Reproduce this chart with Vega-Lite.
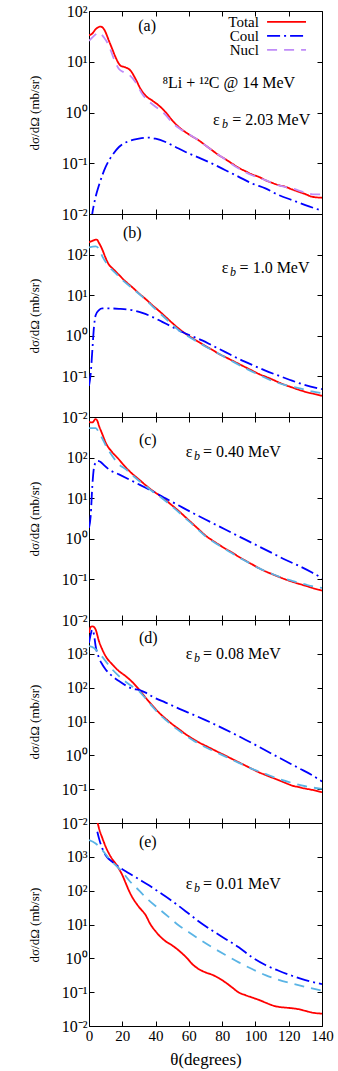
{
"$schema": "https://vega.github.io/schema/vega-lite/v6.json",
"padding": {"left": 27, "top": 2, "right": 5, "bottom": 4},
"spacing": 0,
"bounds": "flush",
"resolve": {"scale": {"color": "independent", "strokeDash": "independent"}},
"config": {
 "font": "Liberation Serif",
 "view": {"stroke": "black", "strokeWidth": 1},
 "axis": {"domain": false, "grid": false, "tickSize": -5, "tickColor": "black", "tickWidth": 1, "labelFont": "Liberation Serif", "labelFontSize": 16, "labelColor": "black", "labelPadding": 7, "labelOverlap": false, "labelFlush": false, "titleFont": "Liberation Serif", "titleFontSize": 13, "titleFontWeight": "normal", "titleColor": "black", "titlePadding": 20}
},
"datasets": {
"curves": [
{"p":"a","s":"Total","t":0,"v":33.3},{"p":"a","s":"Total","t":2,"v":36},{"p":"a","s":"Total","t":4,"v":43.8},{"p":"a","s":"Total","t":7,"v":49.3},{"p":"a","s":"Total","t":9,"v":43.8},{"p":"a","s":"Total","t":12,"v":25.8},{"p":"a","s":"Total","t":14,"v":17.7},{"p":"a","s":"Total","t":16,"v":12.2},{"p":"a","s":"Total","t":19,"v":8.35},{"p":"a","s":"Total","t":22,"v":7.75},{"p":"a","s":"Total","t":25,"v":6.66},{"p":"a","s":"Total","t":28,"v":4.57},{"p":"a","s":"Total","t":31,"v":2.91},{"p":"a","s":"Total","t":34,"v":2.15},{"p":"a","s":"Total","t":38,"v":1.72},{"p":"a","s":"Total","t":42,"v":1.37},{"p":"a","s":"Total","t":46,"v":1.02},{"p":"a","s":"Total","t":50,"v":0.7},{"p":"a","s":"Total","t":54,"v":0.515},{"p":"a","s":"Total","t":58,"v":0.41},{"p":"a","s":"Total","t":62,"v":0.338},{"p":"a","s":"Total","t":66,"v":0.282},{"p":"a","s":"Total","t":70,"v":0.225},{"p":"a","s":"Total","t":74,"v":0.18},{"p":"a","s":"Total","t":78,"v":0.144},{"p":"a","s":"Total","t":82,"v":0.12},{"p":"a","s":"Total","t":86,"v":0.0985},{"p":"a","s":"Total","t":90,"v":0.081},{"p":"a","s":"Total","t":94,"v":0.0697},{"p":"a","s":"Total","t":98,"v":0.06},{"p":"a","s":"Total","t":102,"v":0.054},{"p":"a","s":"Total","t":106,"v":0.0464},{"p":"a","s":"Total","t":110,"v":0.0411},{"p":"a","s":"Total","t":114,"v":0.037},{"p":"a","s":"Total","t":118,"v":0.0344},{"p":"a","s":"Total","t":122,"v":0.0305},{"p":"a","s":"Total","t":126,"v":0.0274},{"p":"a","s":"Total","t":130,"v":0.0247},{"p":"a","s":"Total","t":134,"v":0.0219},{"p":"a","s":"Total","t":140,"v":0.0209},
{"p":"a","s":"Coul","t":1.5,"v":0.008},{"p":"a","s":"Coul","t":2,"v":0.0103},{"p":"a","s":"Coul","t":4,"v":0.0219},{"p":"a","s":"Coul","t":6,"v":0.037},{"p":"a","s":"Coul","t":8,"v":0.058},{"p":"a","s":"Coul","t":10,"v":0.0848},{"p":"a","s":"Coul","t":14,"v":0.144},{"p":"a","s":"Coul","t":18,"v":0.209},{"p":"a","s":"Coul","t":24,"v":0.274},{"p":"a","s":"Coul","t":30,"v":0.305},{"p":"a","s":"Coul","t":36,"v":0.319},{"p":"a","s":"Coul","t":40,"v":0.305},{"p":"a","s":"Coul","t":46,"v":0.262},{"p":"a","s":"Coul","t":52,"v":0.209},{"p":"a","s":"Coul","t":58,"v":0.167},{"p":"a","s":"Coul","t":66,"v":0.129},{"p":"a","s":"Coul","t":74,"v":0.0985},{"p":"a","s":"Coul","t":82,"v":0.073},{"p":"a","s":"Coul","t":90,"v":0.054},{"p":"a","s":"Coul","t":98,"v":0.0399},{"p":"a","s":"Coul","t":106,"v":0.0319},{"p":"a","s":"Coul","t":114,"v":0.0236},{"p":"a","s":"Coul","t":122,"v":0.0188},{"p":"a","s":"Coul","t":130,"v":0.015},{"p":"a","s":"Coul","t":140,"v":0.0116},
{"p":"a","s":"Nucl","t":0,"v":25.8},{"p":"a","s":"Nucl","t":3,"v":32.4},{"p":"a","s":"Nucl","t":6,"v":37.6},{"p":"a","s":"Nucl","t":9,"v":30},{"p":"a","s":"Nucl","t":12,"v":20.6},{"p":"a","s":"Nucl","t":15,"v":11.3},{"p":"a","s":"Nucl","t":18,"v":7.2},{"p":"a","s":"Nucl","t":21,"v":6.2},{"p":"a","s":"Nucl","t":24,"v":5.56},{"p":"a","s":"Nucl","t":28,"v":3.94},{"p":"a","s":"Nucl","t":32,"v":2.32},{"p":"a","s":"Nucl","t":36,"v":1.65},{"p":"a","s":"Nucl","t":40,"v":1.3},{"p":"a","s":"Nucl","t":46,"v":0.9},{"p":"a","s":"Nucl","t":50,"v":0.63},{"p":"a","s":"Nucl","t":55,"v":0.47},{"p":"a","s":"Nucl","t":60,"v":0.375},{"p":"a","s":"Nucl","t":66,"v":0.28},{"p":"a","s":"Nucl","t":74,"v":0.18},{"p":"a","s":"Nucl","t":82,"v":0.118},{"p":"a","s":"Nucl","t":90,"v":0.0786},{"p":"a","s":"Nucl","t":98,"v":0.058},{"p":"a","s":"Nucl","t":106,"v":0.0464},{"p":"a","s":"Nucl","t":114,"v":0.0365},{"p":"a","s":"Nucl","t":122,"v":0.0319},{"p":"a","s":"Nucl","t":130,"v":0.0262},{"p":"a","s":"Nucl","t":136,"v":0.0243},{"p":"a","s":"Nucl","t":140,"v":0.0243},
{"p":"b","s":"Total","t":0,"v":202},{"p":"b","s":"Total","t":2,"v":218},{"p":"b","s":"Total","t":4.6,"v":235},{"p":"b","s":"Total","t":6,"v":194},{"p":"b","s":"Total","t":8,"v":133},{"p":"b","s":"Total","t":10,"v":82.4},{"p":"b","s":"Total","t":12,"v":56.3},{"p":"b","s":"Total","t":14,"v":46.5},{"p":"b","s":"Total","t":18,"v":31.7},{"p":"b","s":"Total","t":22,"v":21.7},{"p":"b","s":"Total","t":26,"v":15.7},{"p":"b","s":"Total","t":30,"v":11.1},{"p":"b","s":"Total","t":34,"v":8.05},{"p":"b","s":"Total","t":38,"v":5.71},{"p":"b","s":"Total","t":42,"v":4.13},{"p":"b","s":"Total","t":46,"v":2.93},{"p":"b","s":"Total","t":50,"v":2.08},{"p":"b","s":"Total","t":54,"v":1.5},{"p":"b","s":"Total","t":58,"v":1.13},{"p":"b","s":"Total","t":62,"v":0.881},{"p":"b","s":"Total","t":66,"v":0.701},{"p":"b","s":"Total","t":70,"v":0.558},{"p":"b","s":"Total","t":74,"v":0.453},{"p":"b","s":"Total","t":78,"v":0.36},{"p":"b","s":"Total","t":82,"v":0.298},{"p":"b","s":"Total","t":86,"v":0.246},{"p":"b","s":"Total","t":90,"v":0.203},{"p":"b","s":"Total","t":94,"v":0.168},{"p":"b","s":"Total","t":98,"v":0.139},{"p":"b","s":"Total","t":102,"v":0.115},{"p":"b","s":"Total","t":106,"v":0.0985},{"p":"b","s":"Total","t":110,"v":0.0845},{"p":"b","s":"Total","t":114,"v":0.0713},{"p":"b","s":"Total","t":118,"v":0.0611},{"p":"b","s":"Total","t":122,"v":0.0535},{"p":"b","s":"Total","t":126,"v":0.0469},{"p":"b","s":"Total","t":130,"v":0.0418},{"p":"b","s":"Total","t":134,"v":0.038},{"p":"b","s":"Total","t":140,"v":0.0333},
{"p":"b","s":"Coul","t":0,"v":0.0589},{"p":"b","s":"Coul","t":1,"v":0.115},{"p":"b","s":"Coul","t":2,"v":0.435},{"p":"b","s":"Coul","t":3,"v":1.66},{"p":"b","s":"Coul","t":4,"v":3.22},{"p":"b","s":"Coul","t":6,"v":4.29},{"p":"b","s":"Coul","t":8,"v":4.72},{"p":"b","s":"Coul","t":12,"v":4.72},{"p":"b","s":"Coul","t":18,"v":4.63},{"p":"b","s":"Coul","t":26,"v":4.29},{"p":"b","s":"Coul","t":32,"v":3.68},{"p":"b","s":"Coul","t":38,"v":2.93},{"p":"b","s":"Coul","t":44,"v":2.2},{"p":"b","s":"Coul","t":50,"v":1.66},{"p":"b","s":"Coul","t":56,"v":1.24},{"p":"b","s":"Coul","t":62,"v":0.97},{"p":"b","s":"Coul","t":68,"v":0.77},{"p":"b","s":"Coul","t":74,"v":0.579},{"p":"b","s":"Coul","t":82,"v":0.396},{"p":"b","s":"Coul","t":90,"v":0.27},{"p":"b","s":"Coul","t":98,"v":0.192},{"p":"b","s":"Coul","t":106,"v":0.139},{"p":"b","s":"Coul","t":114,"v":0.104},{"p":"b","s":"Coul","t":122,"v":0.0783},{"p":"b","s":"Coul","t":130,"v":0.0611},{"p":"b","s":"Coul","t":140,"v":0.0486},
{"p":"b","s":"Nucl","t":0,"v":151},{"p":"b","s":"Nucl","t":4,"v":160},{"p":"b","s":"Nucl","t":6,"v":138},{"p":"b","s":"Nucl","t":8,"v":90.6},{"p":"b","s":"Nucl","t":12,"v":51.2},{"p":"b","s":"Nucl","t":16,"v":34.9},{"p":"b","s":"Nucl","t":20,"v":23.8},{"p":"b","s":"Nucl","t":26,"v":14.8},{"p":"b","s":"Nucl","t":32,"v":9.2},{"p":"b","s":"Nucl","t":38,"v":5.4},{"p":"b","s":"Nucl","t":46,"v":2.67},{"p":"b","s":"Nucl","t":54,"v":1.37},{"p":"b","s":"Nucl","t":62,"v":0.849},{"p":"b","s":"Nucl","t":70,"v":0.547},{"p":"b","s":"Nucl","t":78,"v":0.36},{"p":"b","s":"Nucl","t":86,"v":0.237},{"p":"b","s":"Nucl","t":94,"v":0.158},{"p":"b","s":"Nucl","t":102,"v":0.11},{"p":"b","s":"Nucl","t":110,"v":0.0783},{"p":"b","s":"Nucl","t":118,"v":0.0611},{"p":"b","s":"Nucl","t":126,"v":0.0515},{"p":"b","s":"Nucl","t":134,"v":0.0426},{"p":"b","s":"Nucl","t":140,"v":0.0387},
{"p":"c","s":"Total","t":0,"v":763},{"p":"c","s":"Total","t":2,"v":734},{"p":"c","s":"Total","t":4,"v":888},{"p":"c","s":"Total","t":5,"v":807},{"p":"c","s":"Total","t":6,"v":608},{"p":"c","s":"Total","t":8,"v":378},{"p":"c","s":"Total","t":10,"v":235},{"p":"c","s":"Total","t":14,"v":135},{"p":"c","s":"Total","t":17,"v":100},{"p":"c","s":"Total","t":22,"v":58},{"p":"c","s":"Total","t":26,"v":40},{"p":"c","s":"Total","t":30,"v":29},{"p":"c","s":"Total","t":34,"v":21},{"p":"c","s":"Total","t":38,"v":15.5},{"p":"c","s":"Total","t":40,"v":13.6},{"p":"c","s":"Total","t":42,"v":12},{"p":"c","s":"Total","t":46,"v":9},{"p":"c","s":"Total","t":50,"v":6.6},{"p":"c","s":"Total","t":54,"v":4.8},{"p":"c","s":"Total","t":58,"v":3.4},{"p":"c","s":"Total","t":62,"v":2.4},{"p":"c","s":"Total","t":66,"v":1.7},{"p":"c","s":"Total","t":70,"v":1.2},{"p":"c","s":"Total","t":74,"v":0.92},{"p":"c","s":"Total","t":78,"v":0.72},{"p":"c","s":"Total","t":82,"v":0.57},{"p":"c","s":"Total","t":86,"v":0.46},{"p":"c","s":"Total","t":90,"v":0.36},{"p":"c","s":"Total","t":94,"v":0.29},{"p":"c","s":"Total","t":98,"v":0.235},{"p":"c","s":"Total","t":102,"v":0.19},{"p":"c","s":"Total","t":106,"v":0.158},{"p":"c","s":"Total","t":110,"v":0.135},{"p":"c","s":"Total","t":114,"v":0.116},{"p":"c","s":"Total","t":118,"v":0.1},{"p":"c","s":"Total","t":122,"v":0.088},{"p":"c","s":"Total","t":126,"v":0.078},{"p":"c","s":"Total","t":130,"v":0.07},{"p":"c","s":"Total","t":134,"v":0.062},{"p":"c","s":"Total","t":140,"v":0.053},
{"p":"c","s":"Coul","t":0,"v":1.86},{"p":"c","s":"Coul","t":1,"v":3.6},{"p":"c","s":"Coul","t":2,"v":20},{"p":"c","s":"Coul","t":3,"v":57},{"p":"c","s":"Coul","t":4,"v":75},{"p":"c","s":"Coul","t":5,"v":83},{"p":"c","s":"Coul","t":7,"v":78},{"p":"c","s":"Coul","t":9,"v":65},{"p":"c","s":"Coul","t":12,"v":51},{"p":"c","s":"Coul","t":18,"v":38.7},{"p":"c","s":"Coul","t":26,"v":26.5},{"p":"c","s":"Coul","t":34,"v":18.1},{"p":"c","s":"Coul","t":40,"v":13.6},{"p":"c","s":"Coul","t":46,"v":9.9},{"p":"c","s":"Coul","t":54,"v":6.6},{"p":"c","s":"Coul","t":62,"v":4.4},{"p":"c","s":"Coul","t":70,"v":2.98},{"p":"c","s":"Coul","t":78,"v":2.04},{"p":"c","s":"Coul","t":86,"v":1.39},{"p":"c","s":"Coul","t":94,"v":0.953},{"p":"c","s":"Coul","t":102,"v":0.652},{"p":"c","s":"Coul","t":110,"v":0.446},{"p":"c","s":"Coul","t":118,"v":0.305},{"p":"c","s":"Coul","t":126,"v":0.217},{"p":"c","s":"Coul","t":134,"v":0.148},{"p":"c","s":"Coul","t":140,"v":0.107},
{"p":"c","s":"Nucl","t":0,"v":535},{"p":"c","s":"Nucl","t":4,"v":530},{"p":"c","s":"Nucl","t":6,"v":415},{"p":"c","s":"Nucl","t":8,"v":295},{"p":"c","s":"Nucl","t":10,"v":202},{"p":"c","s":"Nucl","t":14,"v":110},{"p":"c","s":"Nucl","t":18,"v":68},{"p":"c","s":"Nucl","t":22,"v":52},{"p":"c","s":"Nucl","t":26,"v":37},{"p":"c","s":"Nucl","t":30,"v":27},{"p":"c","s":"Nucl","t":34,"v":20},{"p":"c","s":"Nucl","t":38,"v":14.8},{"p":"c","s":"Nucl","t":42,"v":11.4},{"p":"c","s":"Nucl","t":46,"v":8.5},{"p":"c","s":"Nucl","t":50,"v":6.2},{"p":"c","s":"Nucl","t":54,"v":4.5},{"p":"c","s":"Nucl","t":58,"v":3.2},{"p":"c","s":"Nucl","t":62,"v":2.3},{"p":"c","s":"Nucl","t":66,"v":1.62},{"p":"c","s":"Nucl","t":70,"v":1.15},{"p":"c","s":"Nucl","t":74,"v":0.88},{"p":"c","s":"Nucl","t":78,"v":0.69},{"p":"c","s":"Nucl","t":82,"v":0.55},{"p":"c","s":"Nucl","t":86,"v":0.44},{"p":"c","s":"Nucl","t":90,"v":0.35},{"p":"c","s":"Nucl","t":94,"v":0.285},{"p":"c","s":"Nucl","t":98,"v":0.232},{"p":"c","s":"Nucl","t":102,"v":0.19},{"p":"c","s":"Nucl","t":106,"v":0.16},{"p":"c","s":"Nucl","t":110,"v":0.137},{"p":"c","s":"Nucl","t":114,"v":0.118},{"p":"c","s":"Nucl","t":118,"v":0.103},{"p":"c","s":"Nucl","t":122,"v":0.092},{"p":"c","s":"Nucl","t":126,"v":0.083},{"p":"c","s":"Nucl","t":130,"v":0.075},{"p":"c","s":"Nucl","t":134,"v":0.068},{"p":"c","s":"Nucl","t":140,"v":0.062},
{"p":"d","s":"Total","t":0,"v":4150},{"p":"d","s":"Total","t":1,"v":6220},{"p":"d","s":"Total","t":2,"v":6520},{"p":"d","s":"Total","t":3,"v":6220},{"p":"d","s":"Total","t":4,"v":5200},{"p":"d","s":"Total","t":6,"v":2360},{"p":"d","s":"Total","t":8,"v":1340},{"p":"d","s":"Total","t":10,"v":853},{"p":"d","s":"Total","t":14,"v":485},{"p":"d","s":"Total","t":18,"v":309},{"p":"d","s":"Total","t":22,"v":220},{"p":"d","s":"Total","t":26,"v":147},{"p":"d","s":"Total","t":30,"v":89.3},{"p":"d","s":"Total","t":34,"v":50.8},{"p":"d","s":"Total","t":38,"v":30.2},{"p":"d","s":"Total","t":42,"v":18.4},{"p":"d","s":"Total","t":46,"v":12.2},{"p":"d","s":"Total","t":50,"v":8.35},{"p":"d","s":"Total","t":54,"v":5.96},{"p":"d","s":"Total","t":58,"v":4.24},{"p":"d","s":"Total","t":62,"v":3.16},{"p":"d","s":"Total","t":66,"v":2.41},{"p":"d","s":"Total","t":70,"v":1.92},{"p":"d","s":"Total","t":74,"v":1.53},{"p":"d","s":"Total","t":78,"v":1.22},{"p":"d","s":"Total","t":82,"v":0.977},{"p":"d","s":"Total","t":86,"v":0.78},{"p":"d","s":"Total","t":90,"v":0.622},{"p":"d","s":"Total","t":94,"v":0.497},{"p":"d","s":"Total","t":98,"v":0.396},{"p":"d","s":"Total","t":102,"v":0.316},{"p":"d","s":"Total","t":106,"v":0.264},{"p":"d","s":"Total","t":110,"v":0.22},{"p":"d","s":"Total","t":114,"v":0.184},{"p":"d","s":"Total","t":118,"v":0.153},{"p":"d","s":"Total","t":122,"v":0.128},{"p":"d","s":"Total","t":126,"v":0.115},{"p":"d","s":"Total","t":130,"v":0.104},{"p":"d","s":"Total","t":134,"v":0.0955},{"p":"d","s":"Total","t":140,"v":0.0816},
{"p":"d","s":"Coul","t":0,"v":2110},{"p":"d","s":"Coul","t":1,"v":3700},{"p":"d","s":"Coul","t":2,"v":5200},{"p":"d","s":"Coul","t":3,"v":3700},{"p":"d","s":"Coul","t":4,"v":1680},{"p":"d","s":"Coul","t":6,"v":762},{"p":"d","s":"Coul","t":8,"v":485},{"p":"d","s":"Coul","t":10,"v":346},{"p":"d","s":"Coul","t":14,"v":220},{"p":"d","s":"Coul","t":18,"v":157},{"p":"d","s":"Coul","t":22,"v":117},{"p":"d","s":"Coul","t":26,"v":93.5},{"p":"d","s":"Coul","t":30,"v":85.4},{"p":"d","s":"Coul","t":34,"v":71.3},{"p":"d","s":"Coul","t":38,"v":54.3},{"p":"d","s":"Coul","t":46,"v":36.2},{"p":"d","s":"Coul","t":54,"v":24.1},{"p":"d","s":"Coul","t":62,"v":16.4},{"p":"d","s":"Coul","t":70,"v":11},{"p":"d","s":"Coul","t":78,"v":7.2},{"p":"d","s":"Coul","t":86,"v":4.6},{"p":"d","s":"Coul","t":94,"v":2.9},{"p":"d","s":"Coul","t":102,"v":1.8},{"p":"d","s":"Coul","t":110,"v":1.1},{"p":"d","s":"Coul","t":118,"v":0.68},{"p":"d","s":"Coul","t":126,"v":0.42},{"p":"d","s":"Coul","t":134,"v":0.26},{"p":"d","s":"Coul","t":140,"v":0.168},
{"p":"d","s":"Nucl","t":0,"v":1680},{"p":"d","s":"Nucl","t":3,"v":1500},{"p":"d","s":"Nucl","t":6,"v":1070},{"p":"d","s":"Nucl","t":10,"v":608},{"p":"d","s":"Nucl","t":14,"v":346},{"p":"d","s":"Nucl","t":18,"v":220},{"p":"d","s":"Nucl","t":22,"v":150},{"p":"d","s":"Nucl","t":26,"v":108},{"p":"d","s":"Nucl","t":30,"v":80},{"p":"d","s":"Nucl","t":34,"v":48},{"p":"d","s":"Nucl","t":38,"v":28},{"p":"d","s":"Nucl","t":42,"v":17},{"p":"d","s":"Nucl","t":46,"v":11.3},{"p":"d","s":"Nucl","t":50,"v":7.6},{"p":"d","s":"Nucl","t":54,"v":5.4},{"p":"d","s":"Nucl","t":58,"v":3.9},{"p":"d","s":"Nucl","t":62,"v":2.9},{"p":"d","s":"Nucl","t":66,"v":2.2},{"p":"d","s":"Nucl","t":74,"v":1.4},{"p":"d","s":"Nucl","t":82,"v":0.92},{"p":"d","s":"Nucl","t":90,"v":0.6},{"p":"d","s":"Nucl","t":98,"v":0.4},{"p":"d","s":"Nucl","t":106,"v":0.283},{"p":"d","s":"Nucl","t":114,"v":0.201},{"p":"d","s":"Nucl","t":122,"v":0.153},{"p":"d","s":"Nucl","t":130,"v":0.122},{"p":"d","s":"Nucl","t":140,"v":0.102},
{"p":"e","s":"Total","t":5,"v":11000},{"p":"e","s":"Total","t":6,"v":7000},{"p":"e","s":"Total","t":8,"v":3600},{"p":"e","s":"Total","t":10,"v":2000},{"p":"e","s":"Total","t":12,"v":1250},{"p":"e","s":"Total","t":14,"v":850},{"p":"e","s":"Total","t":16,"v":630},{"p":"e","s":"Total","t":18,"v":440},{"p":"e","s":"Total","t":20,"v":290},{"p":"e","s":"Total","t":22,"v":170},{"p":"e","s":"Total","t":24,"v":100},{"p":"e","s":"Total","t":26,"v":64},{"p":"e","s":"Total","t":28,"v":45},{"p":"e","s":"Total","t":30,"v":33},{"p":"e","s":"Total","t":34,"v":19},{"p":"e","s":"Total","t":37,"v":10},{"p":"e","s":"Total","t":40,"v":6.3},{"p":"e","s":"Total","t":43,"v":4.3},{"p":"e","s":"Total","t":46,"v":3.2},{"p":"e","s":"Total","t":50,"v":2.4},{"p":"e","s":"Total","t":54,"v":1.7},{"p":"e","s":"Total","t":59,"v":1.0},{"p":"e","s":"Total","t":62,"v":0.68},{"p":"e","s":"Total","t":66,"v":0.48},{"p":"e","s":"Total","t":70,"v":0.384},{"p":"e","s":"Total","t":74,"v":0.327},{"p":"e","s":"Total","t":78,"v":0.261},{"p":"e","s":"Total","t":82,"v":0.194},{"p":"e","s":"Total","t":86,"v":0.138},{"p":"e","s":"Total","t":90,"v":0.0977},{"p":"e","s":"Total","t":94,"v":0.0815},{"p":"e","s":"Total","t":98,"v":0.0695},{"p":"e","s":"Total","t":102,"v":0.0592},{"p":"e","s":"Total","t":106,"v":0.0493},{"p":"e","s":"Total","t":110,"v":0.0411},{"p":"e","s":"Total","t":114,"v":0.0367},{"p":"e","s":"Total","t":118,"v":0.035},{"p":"e","s":"Total","t":122,"v":0.0335},{"p":"e","s":"Total","t":126,"v":0.0313},{"p":"e","s":"Total","t":130,"v":0.0279},{"p":"e","s":"Total","t":134,"v":0.0249},{"p":"e","s":"Total","t":140,"v":0.0232},
{"p":"e","s":"Coul","t":5,"v":5530},{"p":"e","s":"Coul","t":6,"v":3510},{"p":"e","s":"Coul","t":8,"v":1770},{"p":"e","s":"Coul","t":10,"v":1120},{"p":"e","s":"Coul","t":14,"v":710},{"p":"e","s":"Coul","t":18,"v":504},{"p":"e","s":"Coul","t":22,"v":375},{"p":"e","s":"Coul","t":26,"v":285},{"p":"e","s":"Coul","t":30,"v":217},{"p":"e","s":"Coul","t":36,"v":144},{"p":"e","s":"Coul","t":42,"v":91.2},{"p":"e","s":"Coul","t":48,"v":57.8},{"p":"e","s":"Coul","t":54,"v":35.1},{"p":"e","s":"Coul","t":60,"v":20.8},{"p":"e","s":"Coul","t":66,"v":12.3},{"p":"e","s":"Coul","t":74,"v":6.64},{"p":"e","s":"Coul","t":82,"v":3.75},{"p":"e","s":"Coul","t":90,"v":2.12},{"p":"e","s":"Coul","t":98,"v":1.07},{"p":"e","s":"Coul","t":106,"v":0.634},{"p":"e","s":"Coul","t":114,"v":0.43},{"p":"e","s":"Coul","t":122,"v":0.306},{"p":"e","s":"Coul","t":130,"v":0.227},{"p":"e","s":"Coul","t":140,"v":0.173},
{"p":"e","s":"Nucl","t":0,"v":3130},{"p":"e","s":"Nucl","t":4,"v":2490},{"p":"e","s":"Nucl","t":8,"v":1580},{"p":"e","s":"Nucl","t":12,"v":892},{"p":"e","s":"Nucl","t":16,"v":565},{"p":"e","s":"Nucl","t":20,"v":358},{"p":"e","s":"Nucl","t":24,"v":203},{"p":"e","s":"Nucl","t":30,"v":102},{"p":"e","s":"Nucl","t":36,"v":51.6},{"p":"e","s":"Nucl","t":42,"v":29.2},{"p":"e","s":"Nucl","t":48,"v":16.5},{"p":"e","s":"Nucl","t":54,"v":9.34},{"p":"e","s":"Nucl","t":60,"v":5.92},{"p":"e","s":"Nucl","t":66,"v":3.75},{"p":"e","s":"Nucl","t":74,"v":2.12},{"p":"e","s":"Nucl","t":82,"v":1.26},{"p":"e","s":"Nucl","t":90,"v":0.76},{"p":"e","s":"Nucl","t":98,"v":0.482},{"p":"e","s":"Nucl","t":106,"v":0.32},{"p":"e","s":"Nucl","t":114,"v":0.232},{"p":"e","s":"Nucl","t":122,"v":0.181},{"p":"e","s":"Nucl","t":130,"v":0.144},{"p":"e","s":"Nucl","t":140,"v":0.11}
],
"notes": [
{"p":"a","k":"m","t":29.6,"v":50.7,"txt":"(a)"},
{"p":"a","k":"m","t":44.1,"v":3.85,"txt":"⁸Li + ¹²C @ 14 MeV"},
{"p":"a","k":"m","t":74.5,"v":0.72,"txt":"ε"},
{"p":"a","k":"s","t":79.9,"v":0.72,"txt":"b"},
{"p":"a","k":"m","t":86.1,"v":0.72,"txt":"= 2.03 MeV"},
{"p":"b","k":"m","t":20.4,"v":331,"txt":"(b)"},
{"p":"b","k":"m","t":79.7,"v":47.5,"txt":"ε"},
{"p":"b","k":"s","t":84.7,"v":47.5,"txt":"b"},
{"p":"b","k":"m","t":90.5,"v":47.5,"txt":"= 1.0 MeV"},
{"p":"c","k":"m","t":30,"v":275,"txt":"(c)"},
{"p":"c","k":"m","t":58.1,"v":137,"txt":"ε"},
{"p":"c","k":"s","t":63.1,"v":137,"txt":"b"},
{"p":"c","k":"m","t":68.5,"v":137,"txt":"= 0.40 MeV"},
{"p":"d","k":"m","t":30,"v":2890,"txt":"(d)"},
{"p":"d","k":"m","t":58.1,"v":977,"txt":"ε"},
{"p":"d","k":"s","t":63.1,"v":977,"txt":"b"},
{"p":"d","k":"m","t":68.5,"v":977,"txt":"= 0.08 MeV"},
{"p":"e","k":"m","t":30,"v":2790,"txt":"(e)"},
{"p":"e","k":"m","t":58.1,"v":155,"txt":"ε"},
{"p":"e","k":"s","t":63.1,"v":155,"txt":"b"},
{"p":"e","k":"m","t":68.5,"v":155,"txt":"= 0.01 MeV"},
{"p":"a","k":"l","t":102.1,"v":60.8,"txt":"Total"},
{"p":"a","k":"l","t":102.1,"v":32.3,"txt":"Coul"},
{"p":"a","k":"l","t":102.1,"v":17.1,"txt":"Nucl"}
],
"key": [
{"s":"Total","t":107,"v":60.8},{"s":"Total","t":130.4,"v":60.8},
{"s":"Coul","t":107,"v":32.3},{"s":"Coul","t":130.4,"v":32.3},
{"s":"Nucl","t":107,"v":17.1},{"s":"Nucl","t":130.4,"v":17.1}
]
},
"vconcat": [
{
 "width": 233, "height": 203,
 "resolve": {"axis": {"x": "independent", "y": "independent"}},
 "layer": [
  {"data": {"name": "curves"}, "transform": [{"filter": "datum.p === 'a'"}],
   "mark": {"type": "line", "strokeWidth": 1.8, "clip": true, "interpolate": "monotone"},
   "encoding": {
    "x": {"field": "t", "type": "quantitative", "scale": {"domain": [0, 140], "nice": false}, "axis": {"orient": "bottom", "values": [0,20,40,60,80,100,120,140], "labels": false, "title": null}},
    "y": {"field": "v", "type": "quantitative", "scale": {"type": "log", "domain": [0.01, 100], "nice": false}, "axis": {"orient": "left", "values": [0.01,0.1,1,10,100], "labelExpr": "datum.value < 0.05 ? '10⁻²' : datum.value < 0.5 ? '10⁻¹' : datum.value < 5 ? '10⁰' : datum.value < 50 ? '10¹' : datum.value < 500 ? '10²' : datum.value < 5000 ? '10³' : '10⁴'", "title": "dσ/dΩ (mb/sr)"}},
    "color": {"field": "s", "type": "nominal", "scale": {"domain": ["Total","Coul","Nucl"], "range": ["#ff0000","#0000ff","#c08cf8"]}, "legend": null},
    "strokeDash": {"field": "s", "type": "nominal", "scale": {"domain": ["Total","Coul","Nucl"], "range": [[1,0],[13,4,2,4],[10,7]]}, "legend": null}
   }},
  {"data": {"name": "curves"}, "transform": [{"filter": "datum.p === 'a'"}],
   "mark": {"type": "point", "opacity": 0},
   "encoding": {
    "x": {"field": "t", "type": "quantitative", "axis": {"orient": "top", "values": [0,20,40,60,80,100,120,140], "labels": false, "title": null}},
    "y": {"field": "v", "type": "quantitative", "axis": {"orient": "right", "values": [0.01,0.1,1,10,100], "labels": false, "title": null}}
   }},
  {"data": {"name": "key"},
   "mark": {"type": "line", "strokeWidth": 1.8},
   "encoding": {
    "x": {"field": "t", "type": "quantitative", "axis": null},
    "y": {"field": "v", "type": "quantitative", "axis": null},
    "color": {"field": "s", "type": "nominal", "legend": null},
    "strokeDash": {"field": "s", "type": "nominal", "legend": null}
   }},
  {"data": {"name": "notes"}, "transform": [{"filter": "datum.p === 'a' && datum.k === 'l'"}],
   "mark": {"type": "text", "align": "right", "baseline": "middle", "fontSize": 15},
   "encoding": {"x": {"field": "t", "type": "quantitative", "axis": null}, "y": {"field": "v", "type": "quantitative", "axis": null}, "text": {"field": "txt"}}},
  {"data": {"name": "notes"}, "transform": [{"filter": "datum.p === 'a' && datum.k === 'm'"}],
   "mark": {"type": "text", "align": "left", "baseline": "middle", "fontSize": 16},
   "encoding": {"x": {"field": "t", "type": "quantitative", "axis": null}, "y": {"field": "v", "type": "quantitative", "axis": null}, "text": {"field": "txt"}}},
  {"data": {"name": "notes"}, "transform": [{"filter": "datum.p === 'a' && datum.k === 's'"}],
   "mark": {"type": "text", "align": "left", "baseline": "middle", "fontSize": 12, "fontStyle": "italic", "dy": 4},
   "encoding": {"x": {"field": "t", "type": "quantitative", "axis": null}, "y": {"field": "v", "type": "quantitative", "axis": null}, "text": {"field": "txt"}}}
 ]
},
{
 "width": 233, "height": 203,
 "resolve": {"axis": {"x": "independent", "y": "independent"}},
 "layer": [
  {"data": {"name": "curves"}, "transform": [{"filter": "datum.p === 'b'"}],
   "mark": {"type": "line", "strokeWidth": 1.8, "clip": true, "interpolate": "monotone"},
   "encoding": {
    "x": {"field": "t", "type": "quantitative", "scale": {"domain": [0, 140], "nice": false}, "axis": {"orient": "bottom", "values": [0,20,40,60,80,100,120,140], "labels": false, "title": null}},
    "y": {"field": "v", "type": "quantitative", "scale": {"type": "log", "domain": [0.01, 1000], "nice": false}, "axis": {"orient": "left", "values": [0.01,0.1,1,10,100], "labelExpr": "datum.value < 0.05 ? '10⁻²' : datum.value < 0.5 ? '10⁻¹' : datum.value < 5 ? '10⁰' : datum.value < 50 ? '10¹' : datum.value < 500 ? '10²' : datum.value < 5000 ? '10³' : '10⁴'", "title": "dσ/dΩ (mb/sr)"}},
    "color": {"field": "s", "type": "nominal", "scale": {"domain": ["Total","Coul","Nucl"], "range": ["#ff0000","#0000ff","#5ab4e5"]}, "legend": null},
    "strokeDash": {"field": "s", "type": "nominal", "scale": {"domain": ["Total","Coul","Nucl"], "range": [[1,0],[13,4,2,4],[10,7]]}, "legend": null}
   }},
  {"data": {"name": "curves"}, "transform": [{"filter": "datum.p === 'b'"}],
   "mark": {"type": "point", "opacity": 0},
   "encoding": {
    "x": {"field": "t", "type": "quantitative", "axis": {"orient": "top", "values": [0,20,40,60,80,100,120,140], "labels": false, "title": null}},
    "y": {"field": "v", "type": "quantitative", "axis": {"orient": "right", "values": [0.01,0.1,1,10,100,1000], "labels": false, "title": null}}
   }},
  {"data": {"name": "notes"}, "transform": [{"filter": "datum.p === 'b' && datum.k === 'm'"}],
   "mark": {"type": "text", "align": "left", "baseline": "middle", "fontSize": 16},
   "encoding": {"x": {"field": "t", "type": "quantitative", "axis": null}, "y": {"field": "v", "type": "quantitative", "axis": null}, "text": {"field": "txt"}}},
  {"data": {"name": "notes"}, "transform": [{"filter": "datum.p === 'b' && datum.k === 's'"}],
   "mark": {"type": "text", "align": "left", "baseline": "middle", "fontSize": 12, "fontStyle": "italic", "dy": 4},
   "encoding": {"x": {"field": "t", "type": "quantitative", "axis": null}, "y": {"field": "v", "type": "quantitative", "axis": null}, "text": {"field": "txt"}}}
 ]
},
{
 "width": 233, "height": 203,
 "resolve": {"axis": {"x": "independent", "y": "independent"}},
 "layer": [
  {"data": {"name": "curves"}, "transform": [{"filter": "datum.p === 'c'"}],
   "mark": {"type": "line", "strokeWidth": 1.8, "clip": true, "interpolate": "monotone"},
   "encoding": {
    "x": {"field": "t", "type": "quantitative", "scale": {"domain": [0, 140], "nice": false}, "axis": {"orient": "bottom", "values": [0,20,40,60,80,100,120,140], "labels": false, "title": null}},
    "y": {"field": "v", "type": "quantitative", "scale": {"type": "log", "domain": [0.01, 1000], "nice": false}, "axis": {"orient": "left", "values": [0.01,0.1,1,10,100], "labelExpr": "datum.value < 0.05 ? '10⁻²' : datum.value < 0.5 ? '10⁻¹' : datum.value < 5 ? '10⁰' : datum.value < 50 ? '10¹' : datum.value < 500 ? '10²' : datum.value < 5000 ? '10³' : '10⁴'", "title": "dσ/dΩ (mb/sr)"}},
    "color": {"field": "s", "type": "nominal", "scale": {"domain": ["Total","Coul","Nucl"], "range": ["#ff0000","#0000ff","#5ab4e5"]}, "legend": null},
    "strokeDash": {"field": "s", "type": "nominal", "scale": {"domain": ["Total","Coul","Nucl"], "range": [[1,0],[13,4,2,4],[10,7]]}, "legend": null}
   }},
  {"data": {"name": "curves"}, "transform": [{"filter": "datum.p === 'c'"}],
   "mark": {"type": "point", "opacity": 0},
   "encoding": {
    "x": {"field": "t", "type": "quantitative", "axis": {"orient": "top", "values": [0,20,40,60,80,100,120,140], "labels": false, "title": null}},
    "y": {"field": "v", "type": "quantitative", "axis": {"orient": "right", "values": [0.01,0.1,1,10,100,1000], "labels": false, "title": null}}
   }},
  {"data": {"name": "notes"}, "transform": [{"filter": "datum.p === 'c' && datum.k === 'm'"}],
   "mark": {"type": "text", "align": "left", "baseline": "middle", "fontSize": 16},
   "encoding": {"x": {"field": "t", "type": "quantitative", "axis": null}, "y": {"field": "v", "type": "quantitative", "axis": null}, "text": {"field": "txt"}}},
  {"data": {"name": "notes"}, "transform": [{"filter": "datum.p === 'c' && datum.k === 's'"}],
   "mark": {"type": "text", "align": "left", "baseline": "middle", "fontSize": 12, "fontStyle": "italic", "dy": 4},
   "encoding": {"x": {"field": "t", "type": "quantitative", "axis": null}, "y": {"field": "v", "type": "quantitative", "axis": null}, "text": {"field": "txt"}}}
 ]
},
{
 "width": 233, "height": 203,
 "resolve": {"axis": {"x": "independent", "y": "independent"}},
 "layer": [
  {"data": {"name": "curves"}, "transform": [{"filter": "datum.p === 'd'"}],
   "mark": {"type": "line", "strokeWidth": 1.8, "clip": true, "interpolate": "monotone"},
   "encoding": {
    "x": {"field": "t", "type": "quantitative", "scale": {"domain": [0, 140], "nice": false}, "axis": {"orient": "bottom", "values": [0,20,40,60,80,100,120,140], "labels": false, "title": null}},
    "y": {"field": "v", "type": "quantitative", "scale": {"type": "log", "domain": [0.01, 10000], "nice": false}, "axis": {"orient": "left", "values": [0.01,0.1,1,10,100,1000], "labelExpr": "datum.value < 0.05 ? '10⁻²' : datum.value < 0.5 ? '10⁻¹' : datum.value < 5 ? '10⁰' : datum.value < 50 ? '10¹' : datum.value < 500 ? '10²' : datum.value < 5000 ? '10³' : '10⁴'", "title": "dσ/dΩ (mb/sr)"}},
    "color": {"field": "s", "type": "nominal", "scale": {"domain": ["Total","Coul","Nucl"], "range": ["#ff0000","#0000ff","#5ab4e5"]}, "legend": null},
    "strokeDash": {"field": "s", "type": "nominal", "scale": {"domain": ["Total","Coul","Nucl"], "range": [[1,0],[13,4,2,4],[10,7]]}, "legend": null}
   }},
  {"data": {"name": "curves"}, "transform": [{"filter": "datum.p === 'd'"}],
   "mark": {"type": "point", "opacity": 0},
   "encoding": {
    "x": {"field": "t", "type": "quantitative", "axis": {"orient": "top", "values": [0,20,40,60,80,100,120,140], "labels": false, "title": null}},
    "y": {"field": "v", "type": "quantitative", "axis": {"orient": "right", "values": [0.01,0.1,1,10,100,1000,10000], "labels": false, "title": null}}
   }},
  {"data": {"name": "notes"}, "transform": [{"filter": "datum.p === 'd' && datum.k === 'm'"}],
   "mark": {"type": "text", "align": "left", "baseline": "middle", "fontSize": 16},
   "encoding": {"x": {"field": "t", "type": "quantitative", "axis": null}, "y": {"field": "v", "type": "quantitative", "axis": null}, "text": {"field": "txt"}}},
  {"data": {"name": "notes"}, "transform": [{"filter": "datum.p === 'd' && datum.k === 's'"}],
   "mark": {"type": "text", "align": "left", "baseline": "middle", "fontSize": 12, "fontStyle": "italic", "dy": 4},
   "encoding": {"x": {"field": "t", "type": "quantitative", "axis": null}, "y": {"field": "v", "type": "quantitative", "axis": null}, "text": {"field": "txt"}}}
 ]
},
{
 "width": 233, "height": 203,
 "resolve": {"axis": {"x": "independent", "y": "independent"}},
 "layer": [
  {"data": {"name": "curves"}, "transform": [{"filter": "datum.p === 'e'"}],
   "mark": {"type": "line", "strokeWidth": 1.8, "clip": true, "interpolate": "monotone"},
   "encoding": {
    "x": {"field": "t", "type": "quantitative", "scale": {"domain": [0, 140], "nice": false}, "axis": {"orient": "bottom", "values": [0,20,40,60,80,100,120,140], "labels": true, "labelFontSize": 15, "labelPadding": 7, "title": "θ(degrees)", "titleFontSize": 17, "titlePadding": 8}},
    "y": {"field": "v", "type": "quantitative", "scale": {"type": "log", "domain": [0.01, 10000], "nice": false}, "axis": {"orient": "left", "values": [0.01,0.1,1,10,100,1000], "labelExpr": "datum.value < 0.05 ? '10⁻²' : datum.value < 0.5 ? '10⁻¹' : datum.value < 5 ? '10⁰' : datum.value < 50 ? '10¹' : datum.value < 500 ? '10²' : datum.value < 5000 ? '10³' : '10⁴'", "title": "dσ/dΩ (mb/sr)"}},
    "color": {"field": "s", "type": "nominal", "scale": {"domain": ["Total","Coul","Nucl"], "range": ["#ff0000","#0000ff","#5ab4e5"]}, "legend": null},
    "strokeDash": {"field": "s", "type": "nominal", "scale": {"domain": ["Total","Coul","Nucl"], "range": [[1,0],[13,4,2,4],[10,7]]}, "legend": null}
   }},
  {"data": {"name": "curves"}, "transform": [{"filter": "datum.p === 'e'"}],
   "mark": {"type": "point", "opacity": 0},
   "encoding": {
    "x": {"field": "t", "type": "quantitative", "axis": {"orient": "top", "values": [0,20,40,60,80,100,120,140], "labels": false, "title": null}},
    "y": {"field": "v", "type": "quantitative", "axis": {"orient": "right", "values": [0.01,0.1,1,10,100,1000,10000], "labels": false, "title": null}}
   }},
  {"data": {"name": "notes"}, "transform": [{"filter": "datum.p === 'e' && datum.k === 'm'"}],
   "mark": {"type": "text", "align": "left", "baseline": "middle", "fontSize": 16},
   "encoding": {"x": {"field": "t", "type": "quantitative", "axis": null}, "y": {"field": "v", "type": "quantitative", "axis": null}, "text": {"field": "txt"}}},
  {"data": {"name": "notes"}, "transform": [{"filter": "datum.p === 'e' && datum.k === 's'"}],
   "mark": {"type": "text", "align": "left", "baseline": "middle", "fontSize": 12, "fontStyle": "italic", "dy": 4},
   "encoding": {"x": {"field": "t", "type": "quantitative", "axis": null}, "y": {"field": "v", "type": "quantitative", "axis": null}, "text": {"field": "txt"}}}
 ]
}
]
}
